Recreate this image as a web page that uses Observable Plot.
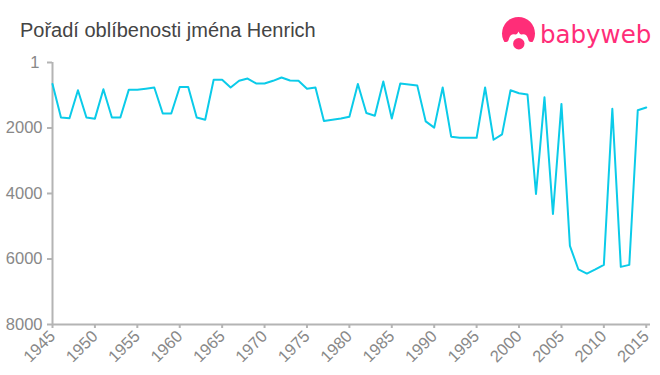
<!DOCTYPE html>
<html lang="cs">
<head>
<meta charset="utf-8">
<script src="https://cdn.jsdelivr.net/npm/d3@7"></script>
<script src="https://cdn.jsdelivr.net/npm/@observablehq/plot@0.6"></script>
<style>
html,body{margin:0;padding:0;background:#fff;}
#wrap{position:relative;width:660px;height:375px;overflow:hidden;font-family:"Liberation Sans",Arial,sans-serif;}
#title{position:absolute;left:20px;top:19px;font-size:20px;line-height:23px;color:#444;}
#logo{position:absolute;left:500px;top:14px;}
svg{display:block;}
</style>
</head>
<body>
<div id="wrap">
<div id="chart"></div>
<div id="title">Pořadí oblíbenosti jména Henrich</div>
<svg id="logo" width="156" height="40" viewBox="0 0 156 40">
  <circle cx="18.5" cy="19.5" r="16.5" fill="#ff2d78"/>
  <path fill="#fff" d="M0 40V28H6C8 28 8.5 26.5 9 24.5C10 21 12.500 19.500 15 20.500C16.500 21 17.500 19.500 18.500 17.500C19.500 19.500 20.500 21 22 20.500C24.500 19.500 27 21 28 24.500C28.500 26.500 29 28 31 28H38V40Z"/>
  <circle cx="18.800" cy="29.800" r="5.700" fill="#ff2d78"/>
  <text x="40" y="29" font-family="'DejaVu Sans',sans-serif" font-size="24.500" fill="#ff2d78">babyweb</text>
</svg>
</div>
<script>
const years = d3.range(1945, 2016);
const ranks = [660,1680,1705,850,1680,1715,820,1680,1680,830,830,800,765,1560,1560,750,750,1680,1750,530,530,
765,560,490,640,640,560,460,550,560,800,765,1785,1750,1710,1660,660,1545,1625,580,1710,640,670,700,1800,1990,
765,2265,2300,2300,2300,765,2360,2195,850,940,980,4015,1065,4625,1265,5600,6320,6445,6320,6180,1415,6240,6180,1460,1375];
const yTicks = [2000,4000,6000,8000];
const yTop = [1];
const xTicks = d3.range(1945, 2016, 5);
const table = years.map((year,i)=>({year,rank:ranks[i]}));
const axisColor = "#b4b4b4", labelColor = "#888888";
const fmt = d=>String(d);

const plot = Plot.plot({
  width:660, height:375,
  marginLeft:52, marginRight:10, marginTop:62, marginBottom:51,
  style:{fontFamily:"'Liberation Sans',Arial,sans-serif",background:"#fff"},
  x:{domain:[1945,2015.5],label:null},
  y:{domain:[8000,1],label:null},
  marks:[
    Plot.ruleX([1945],{y1:1,y2:8000,stroke:axisColor,strokeWidth:2}),
    Plot.ruleY([8000],{stroke:axisColor,strokeWidth:2}),
    Plot.axisY({ticks:yTicks,tickFormat:fmt,tickSize:5,tickPadding:5,stroke:axisColor,color:labelColor,fontSize:16.500,strokeWidth:2,label:null}),
    Plot.axisY({ticks:yTop,tickFormat:null,tickSize:5,text:null,stroke:axisColor,strokeWidth:2,label:null}),
    Plot.axisY({ticks:yTop,tickFormat:fmt,tickSize:0,tickPadding:13,color:labelColor,fontSize:16.500,label:null}),
    Plot.axisX({ticks:xTicks,tickSize:4,text:null,stroke:axisColor,strokeWidth:2,label:null}),
    Plot.axisX({ticks:xTicks,tickFormat:fmt,tickSize:0,tickPadding:7,tickRotate:-45,dx:0,dy:2,color:labelColor,fontSize:16.500,label:null}),
    Plot.line(table,{x:"year",y:"rank",stroke:"#0bcbe9",strokeWidth:2,curve:"linear"})
  ]
});
document.getElementById("chart").appendChild(plot);
</script>
</body>
</html>
